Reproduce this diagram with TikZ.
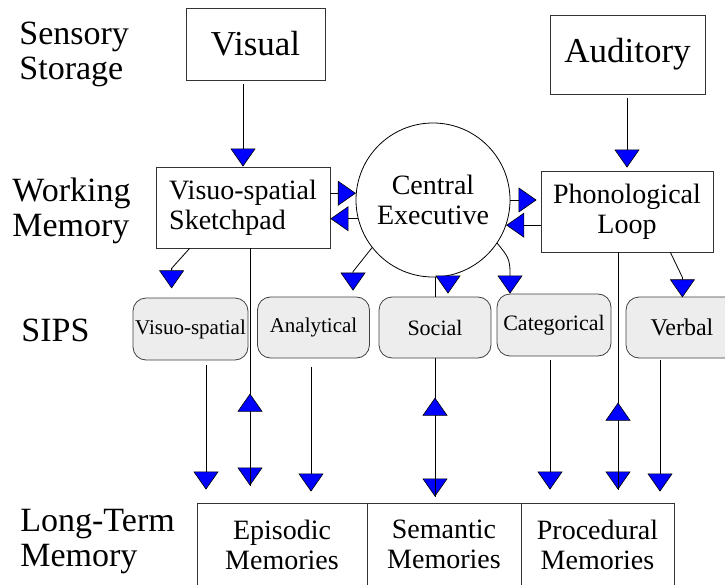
\documentclass[tikz,border=0pt]{standalone}
\usepackage{fontspec}
\setmainfont{Liberation Serif}
\usetikzlibrary{arrows.meta}

\begin{document}
\begin{tikzpicture}[x=1pt,y=-1pt,line width=0.8pt,
    tip/.style={-{Triangle[width=25pt,length=18pt,fill=blue,line width=0.6pt]}},
    lbl/.style={anchor=west,align=left,inner sep=0pt,font=\fontsize{34}{35}\selectfont},
    sense/.style={draw=black!80,font=\fontsize{35}{38}\selectfont},
    wm/.style={draw=black!80,align=center,font=\fontsize{28}{30}\selectfont},
    sips/.style={draw=black!75,fill=black!7,rounded corners=13pt,inner xsep=0pt,
      minimum width=112pt,minimum height=61pt,font=\fontsize{22}{24}\selectfont},
    ltm/.style={draw=black!80,align=center,minimum height=83pt,font=\fontsize{28}{30}\selectfont}]
  \useasboundingbox (0,0) rectangle (725,585);
  \clip (0,0) rectangle (725,585);
  \node [lbl] (l1) at (19,54) {Sensory\\Storage};
  \node [lbl] (l2) at (12,211) {Working\\Memory};
  \node [lbl] (l3) at (21,330) {SIPS};
  \node [lbl] (l4) at (20,542) {Long-Term\\Memory};
  \node [sense,minimum width=139pt,minimum height=72pt] (vis) at (255.5,44) {Visual};
  \node [sense,minimum width=155pt,minimum height=79pt] (aud) at (627.5,54.5) {Auditory};
  \node [wm,align=left,minimum width=174pt,minimum height=81pt] (vss) at (243,207.5) {Visuo-spatial\\Sketchpad};
  \node [wm,draw=black,circle,minimum size=154pt] (ce) at (433,200) {Central\\Executive};
  \node [wm,minimum width=172pt,minimum height=81pt] (pl) at (627,211.5) {Phonological\\Loop};
  \node [sips,font=\fontsize{21}{24}\selectfont,minimum width=115pt,minimum height=62pt] (s1) at (190.5,329) {Visuo-spatial};
  \node [sips,font=\fontsize{21}{24}\selectfont] (s2) at (313.5,327.5) {Analytical};
  \node [sips] (s3) at (435,327.5) {Social};
  \node [sips,minimum width=114pt,minimum height=62pt] (s4) at (554,325) {Categorical};
  \node [sips,font=\fontsize{24}{26}\selectfont] (s5) at (682,327.5) {Verbal};
  \node [ltm,minimum width=170pt] (ep) at (282,544.5) {Episodic\\Memories};
  \node [ltm,minimum width=154pt] (sem) at (444,544.5) {Semantic\\Memories};
  \node [ltm,minimum width=153pt] (proc) at (597.5,544.5) {Procedural\\Memories};
  \draw [tip,shorten <=4pt] (vis.south -| vss.north) -- (vss.north);
  \draw [tip,shorten <=4pt,shorten >=3pt] (aud.south -| pl.north) -- (pl.north);
  \draw [tip] (vss.east |- ce.175) -- (ce.175);
  \draw [tip] (ce.194) -- (vss.east |- ce.194);
  \draw [tip,shorten >=4pt] (ce.east) -- (ce.east -| pl.west);
  \draw [tip] (pl.west |- ce.-19) -- (ce.-19);
  \draw [tip] ([xshift=34pt]vss.south west) -- ++(-18,20) -- ++(0,20);
  \draw [tip] (ce.218) -- ++(-19,24) -- ++(0,19);
  \draw (ce.south -| s3.north) -- (s3.north);
  \draw [tip] ([xshift=13pt,yshift=22pt]s3.north) -- ([xshift=13pt,yshift=3pt]s3.north);
  \draw [tip] (ce.-34) .. controls +(10,12) and +(0,-14) .. ([xshift=-44pt,yshift=21pt]s4.north) -- ([xshift=-44pt]s4.north);
  \draw [tip] ([xshift=-43pt]pl.south east) -- ++(12,25) -- ++(0,20);
  \draw [tip,shorten >=17pt] ([xshift=7pt]vss.south) -- ([xshift=7pt]vss.south |- ep.north);
  \draw [tip,shorten <=17pt] ([xshift=7pt]vss.south |- ep.north) -- ++(0,-109);
  \draw [tip,shorten <=5pt,shorten >=13pt] ([xshift=15.5pt]s1.south) -- ([xshift=15.5pt]s1.south |- ep.north);
  \draw [tip,shorten <=9pt,shorten >=11pt] ([xshift=-2.5pt]s2.south) -- ([xshift=-2.5pt]s2.south |- ep.north);
  \draw [tip,shorten >=6pt] (s3.south) -- (s3.south |- sem.north);
  \draw [tip,shorten <=6pt] (s3.south |- sem.north) -- ++(0,-105);
  \draw [tip,shorten <=4pt,shorten >=13pt] ([xshift=-4pt]s4.south) -- ([xshift=-4pt]s4.south |- proc.north);
  \draw [tip,shorten >=13pt] ([xshift=-9pt]pl.south) -- ([xshift=-9pt]pl.south |- proc.north);
  \draw [tip,shorten <=13pt] ([xshift=-9pt]pl.south |- proc.north) -- ++(0,-100);
  \draw [tip,shorten <=2pt,shorten >=11pt] ([xshift=-22pt]s5.south) -- ([xshift=-22pt]s5.south |- proc.north);
\end{tikzpicture}
\end{document}
